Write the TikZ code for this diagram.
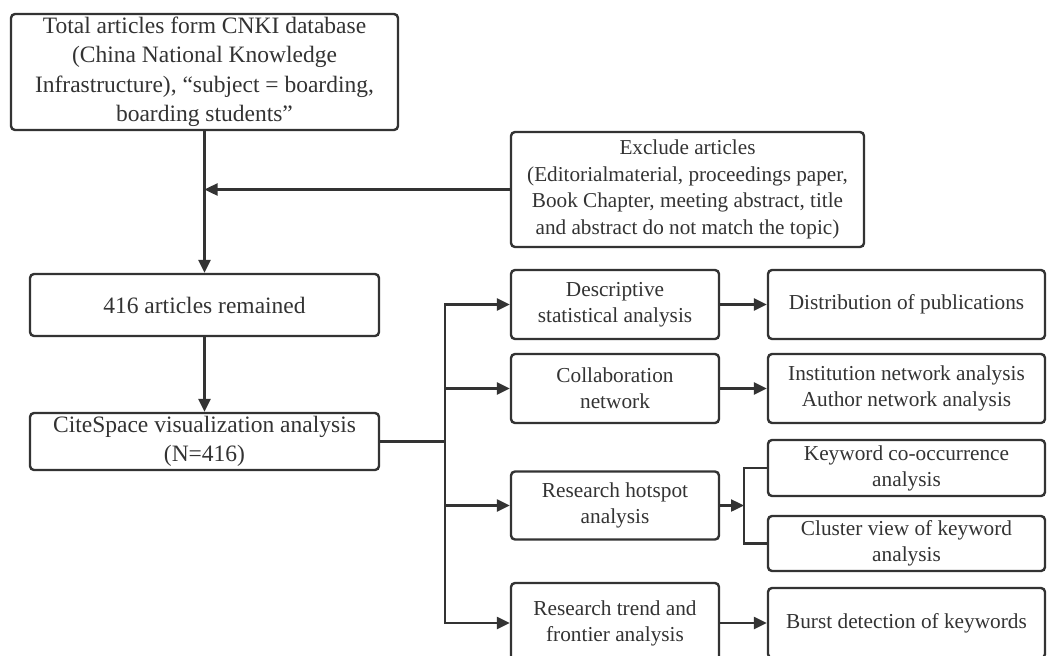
\documentclass[tikz,border=0pt]{standalone}
\usepackage{fontspec}
\setmainfont{Liberation Serif}
\usetikzlibrary{arrows.meta}
\definecolor{ink}{HTML}{333333}
\begin{document}
\begin{tikzpicture}[x=1pt,y=-1pt,
  box/.style={draw=ink, line width=2.4pt, rounded corners=4pt, fill=white, inner sep=0pt,
    align=center, text=ink},
  bigtxt/.style={font=\fontsize{23.5}{29.5}\selectfont},
  midtxt/.style={font=\fontsize{21.2}{26.5}\selectfont},
  smalltxt/.style={font=\fontsize{21.3}{26}\selectfont},
  conn/.style={draw=ink, line width=2.4pt},
  arr/.style={conn, -{Triangle[length=13pt,width=12pt]}}
]
\useasboundingbox (0,0) rectangle (1047,656);

% left column
\node[box,bigtxt,minimum width=387pt,minimum height=116pt] (top) at (204.5,72)
  {Total articles form CNKI database\\(China National Knowledge\\Infrastructure), “subject = boarding,\\boarding students”};
\node[box,midtxt,minimum width=353pt,minimum height=115pt] (excl) at (687.5,189.5)
  {Exclude articles\\(Editorialmaterial, proceedings paper,\\Book Chapter, meeting abstract, title\\and abstract do not match the topic)};
\node[box,bigtxt,minimum width=349pt,minimum height=62pt] (rem) at (204.5,305)
  {416 articles remained};
\node[box,bigtxt,minimum width=349pt,minimum height=57pt] (cite) at (204.5,441.5)
  {CiteSpace visualization analysis\\(N=416)};

% middle column
\node[box,smalltxt,minimum width=208pt,minimum height=69pt] (desc) at (615,304.5)
  {Descriptive\\statistical analysis};
\node[box,smalltxt,minimum width=208pt,minimum height=69pt] (coll) at (615,388.5)
  {Collaboration\\network};
\node[box,smalltxt,minimum width=208pt,minimum height=68pt] (hot) at (615,505.5)
  {Research hotspot\\analysis};
\node[box,smalltxt,minimum width=208pt,minimum height=80pt] (trend) at (615,623)
  {Research trend and\\frontier analysis};

% right column
\node[box,smalltxt,minimum width=277pt,minimum height=69pt] (dist) at (906.5,304.5)
  {Distribution of publications};
\node[box,smalltxt,minimum width=277pt,minimum height=69pt] (inst) at (906.5,388.5)
  {Institution network analysis\\Author network analysis};
\node[box,smalltxt,minimum width=277pt,minimum height=56pt] (kw) at (906.5,468)
  {Keyword co-occurrence\\analysis};
\node[box,smalltxt,minimum width=277pt,minimum height=55pt] (clu) at (906.5,543.5)
  {Cluster view of keyword\\analysis};
\node[box,smalltxt,minimum width=277pt,minimum height=70pt] (burst) at (906.5,623)
  {Burst detection of keywords};

% connectors
\draw[arr] (top.south) -- (rem.north);
\draw[arr] (excl.west) -- (excl.west -| top.south);
\draw[arr] (rem.south) -- (cite.north);

\coordinate (tj) at (445,441.5);
\draw[conn] (cite.east) -- (tj);
\draw[arr] (tj) |- (desc.west);
\draw[arr] (tj) |- (coll.west);
\draw[arr] (tj) |- (hot.west);
\draw[arr] (tj) |- (trend.west);

\draw[arr] (desc.east) -- (dist.west);
\draw[arr] (coll.east) -- (inst.west);
\draw[arr] (trend.east) -- (burst.west);

\coordinate (br) at (744,505.5);
\draw[conn] (kw.west) -| (br) |- (clu.west);
\draw[arr] (hot.east) -- (br);
\end{tikzpicture}
\end{document}
